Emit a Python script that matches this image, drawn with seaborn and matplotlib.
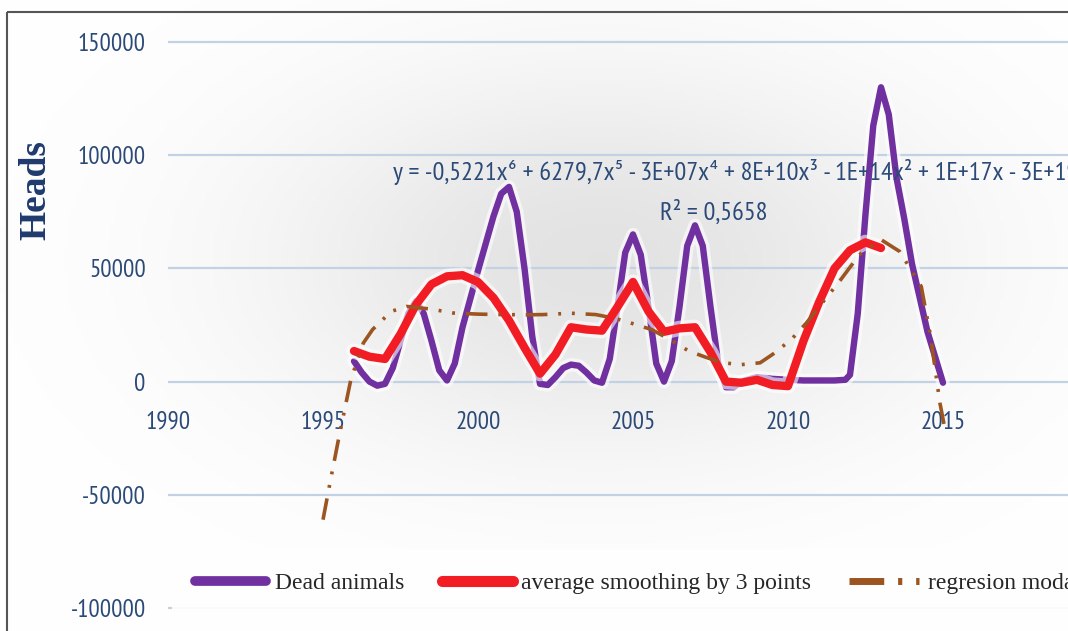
import numpy as np
import matplotlib
matplotlib.use('Agg')
import matplotlib.pyplot as plt
import matplotlib.patheffects as pe
from matplotlib.lines import Line2D
from matplotlib.patches import Rectangle
import seaborn as sns

# values (extra points near the peaks so they stay round)
years_dead = [1996.0, 1996.25, 1996.5, 1996.75, 1997.0, 1997.25, 1997.5, 1997.75,
              1998.0, 1998.25, 1998.5, 1998.75, 1999.0, 1999.25, 1999.5, 2000.0,
              2000.5, 2000.75, 2001.0, 2001.25, 2001.5, 2001.75, 2002.0, 2002.25,
              2002.5, 2002.75, 2003.0, 2003.25, 2003.5, 2003.75, 2004.0, 2004.25,
              2004.5, 2004.75, 2005.0, 2005.25, 2005.5, 2005.75, 2006.0, 2006.25,
              2006.5, 2006.75, 2007.0, 2007.25, 2007.5, 2007.75, 2008.0, 2008.25,
              2008.5, 2009.0, 2009.5, 2010.0, 2010.5, 2011.0, 2011.5, 2011.85,
              2012.0, 2012.25, 2012.5, 2012.75, 2013.0, 2013.25, 2013.5, 2013.75,
              2014.0, 2014.5, 2015.0]
dead_animals = [9000, 4000, 0, -1800, -1000, 6000, 18000, 30000,
                35500, 30000, 18000, 5000, 500, 8000, 24000, 49000,
                73000, 83000, 86000, 75000, 50000, 20000, -1000, -1500,
                2000, 6000, 7500, 7000, 4000, 500, -500, 10000,
                33000, 57000, 65000, 56000, 33000, 8000, 0, 9000,
                33000, 60000, 69000, 60000, 33000, 8000, -2500, -2500,
                0, 2000, 1200, 800, 500, 500, 500, 800,
                3000, 30000, 74000, 113000, 130000, 118000, 90000, 72000,
                52000, 22000, -500]

years_avg = [1996.0, 1996.5, 1997.0, 1997.5, 1998.0, 1998.5, 1999.0, 1999.5,
             2000.0, 2000.5, 2001.0, 2001.5, 2002.0, 2002.5, 2003.0, 2003.5,
             2004.0, 2004.5, 2005.0, 2005.5, 2006.0, 2006.5, 2007.0, 2007.5,
             2008.0, 2008.5, 2009.0, 2009.5, 2010.0, 2010.5, 2011.0, 2011.5,
             2012.0, 2012.5, 2013.0]
avg_smooth = [13500, 11000, 10000, 21000, 34000, 43000, 46500, 47000,
              44000, 37000, 27000, 15000, 3500, 12000, 24000, 23000,
              22500, 33000, 44000, 31000, 22000, 23500, 24000, 13000,
              0, -500, 800, -1500, -2000, 18000, 35000, 50000,
              58000, 61500, 59000]

years_reg = [1995.0, 1995.25, 1995.5, 1995.9, 1996.3, 1996.6, 1997.2, 1997.7,
             1998.5, 1999.2, 2000.0, 2000.8, 2001.5, 2002.1, 2003.0, 2003.8,
             2004.4, 2004.9, 2005.6, 2006.2, 2006.8, 2007.4, 2007.9, 2008.5,
             2009.1, 2009.5, 2010.1, 2010.6, 2011.1, 2011.7, 2012.3, 2013.0,
             2013.6, 2014.3, 2014.6, 2014.9, 2015.05]
reg_model = [-61000, -43000, -25500, 1000, 17000, 23000, 31000, 33200,
             32000, 30300, 29800, 29600, 29500, 29600, 30200, 29600,
             28000, 26000, 23000, 18500, 13500, 10500, 8300, 7500,
             8300, 12000, 18500, 26000, 34700, 45000, 56000, 62700,
             57500, 42000, 20000, -9400, -20000]

x_ticks = [1990, 1995, 2000, 2005, 2010, 2015]
y_ticks = [-100000, -50000, 0, 50000, 100000, 150000]

purple = '#7030a0'
red = '#f21c24'
brown = '#9c5420'
text_blue = '#2b4a78'
narrow = ['PT Sans Narrow', 'Carlito', 'DejaVu Sans']
serif = ['Liberation Serif', 'DejaVu Serif']

sns.set_style('white')
plt.rcParams['font.family'] = narrow

fig = plt.figure(figsize=(10.68, 6.31), dpi=100)

# soft grey glow behind the chart
bg = fig.add_axes([0, 0, 1, 1], zorder=-10)
gx, gy = np.meshgrid(np.linspace(0, 1068, 300), np.linspace(0, 631, 200))
shade = 1 - 0.11 * np.exp(-((gx - 600) / 330) ** 2 - ((gy - 260) / 190) ** 2)
bg.imshow(np.dstack([shade, shade, shade]), extent=[0, 1068, 631, 0], aspect='auto')
bg.set_xlim(0, 1068)
bg.set_ylim(631, 0)
bg.axis('off')
bg.add_patch(Rectangle((7, 12), 1100, 700, fill=False, edgecolor='#555555', lw=1.5))

px_y = 566 / 250000
ax = fig.add_axes([168 / 1068, (631 - 620) / 631, 900 / 1068, 590 / 631])
ax.set_facecolor('none')

glow = lambda w: [pe.Stroke(linewidth=w + 5, foreground='white', alpha=0.6), pe.Normal()]

sns.lineplot(x=years_dead, y=dead_animals, ax=ax, color=purple, linewidth=4.6,
             sort=False, solid_joinstyle='round', solid_capstyle='round')
sns.lineplot(x=years_avg, y=avg_smooth, ax=ax, color=red, linewidth=6.0,
             sort=False, solid_joinstyle='round', solid_capstyle='round')
sns.lineplot(x=years_reg, y=reg_model, ax=ax, color=brown, linewidth=2.6, sort=False)
ax.lines[0].set_path_effects(glow(4.6))
ax.lines[1].set_path_effects(glow(6.0))
ax.lines[2].set_dashes([6, 3, 0.8, 3, 0.8, 3])
ax.lines[2].set_dash_capstyle('butt')

ax.set_xlim(1990, 1990 + 900 / 31)
ax.set_ylim(-100000 - 12 / px_y, 150000 + 12 / px_y)
ax.set_yticks(y_ticks)
ax.set_yticklabels([str(v) for v in y_ticks])
ax.set_xticks(x_ticks)
ax.set_xticklabels([str(v) for v in x_ticks])
ax.grid(axis='y', color='#c3d1e4', linewidth=1.6)
ax.grid(axis='x', visible=False)
for s in ax.spines.values():
    s.set_visible(False)
ax.spines['bottom'].set_position(('data', 0))
ax.tick_params(axis='y', length=0, pad=16, labelsize=18, labelcolor=text_blue)
ax.tick_params(axis='x', length=0, pad=21, labelsize=18, labelcolor=text_blue)
ax.set_xlabel('')
ax.set_ylabel('')

fig.text(36 / 1068, 1 - 190 / 631, 'Heads', rotation=90, ha='center', va='center',
         fontsize=27, fontweight='bold', color='#1f3a6e', family=serif)

ax.text(1990 + (393 - 168) / 31, 92700,
        'y = -0,5221x⁶ + 6279,7x⁵ - 3E+07x⁴ + 8E+10x³ - 1E+14x² + 1E+17x - 3E+19',
        ha='left', va='center', fontsize=19, color=text_blue, clip_on=False)
ax.text(1990 + (714 - 168) / 31, 75000, 'R² = 0,5658', ha='center', va='center',
        fontsize=19, color=text_blue)

handles = [Line2D([], [], color=purple, lw=7),
           Line2D([], [], color=red, lw=8),
           Line2D([], [], color=brown, lw=5, dashes=[5, 2, 0.6, 2, 0.6, 2])]
labels = ['Dead animals', 'average smoothing by 3 points', 'regresion moda']
leg = fig.legend(handles, labels, loc='center left', bbox_to_anchor=(160 / 1068, 1 - 583 / 631),
                 ncol=3, frameon=True, facecolor='white', edgecolor='none', framealpha=0.9,
                 prop={'family': serif, 'size': 17}, handlelength=3.0, handletextpad=0.35,
                 columnspacing=1.6, borderpad=1.0)

fig.savefig('out.png', dpi=100)
